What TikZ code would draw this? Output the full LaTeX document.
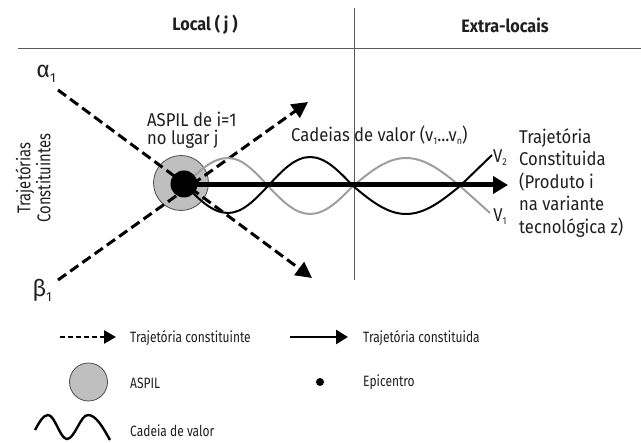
\documentclass[tikz,border=0pt]{standalone}
\usepackage{fontspec}
\setmainfont{Fira Sans}[FakeStretch=0.9]
\newfontfamily\sidefont{Fira Sans}[FakeStretch=0.8]
\newfontfamily\legfont{Fira Sans}[FakeStretch=0.8]
\newfontfamily\greekfont{Fira Sans}
\usetikzlibrary{arrows.meta}
\definecolor{ink}{gray}{0.12}
\definecolor{aspilgray}{gray}{0.75}
\definecolor{wavegray}{gray}{0.62}
\definecolor{rulegray}{gray}{0.35}
\newcommand\subl[1]{\raisebox{-3pt}{\fontsize{10}{10}\selectfont #1}}
\newcommand\subg[1]{\raisebox{-5pt}{\fontsize{13}{13}\selectfont #1}}
\tikzset{
  rulel/.style={draw=rulegray, line width=0.9pt},
  head/.style={font=\bfseries\fontsize{18}{18}\selectfont, text=ink, inner sep=0pt},
  lbl/.style={font=\fontsize{18.5}{18}\selectfont, text=ink, inner sep=0pt, align=left},
  sidelbl/.style={font=\sidefont\fontsize{18.5}{20}\selectfont, text=ink, inner sep=0pt, align=center},
  greek/.style={font=\greekfont\fontsize{23}{23}\selectfont, text=ink, inner sep=0pt},
  legtxt/.style={font=\legfont\fontsize{15}{15}\selectfont, text=ink, inner sep=0pt, anchor=west},
  dasharrow/.style={draw=black, line width=3pt, dash pattern=on 10pt off 5pt,
     -{Triangle[length=16pt,width=16pt]}},
  solidarrow/.style={draw=black, line width=5pt, -{Triangle[length=15pt,width=17pt]}},
  aspilc/.style={circle, fill=aspilgray, draw=black!70, line width=0.8pt, inner sep=0pt},
  epic/.style={circle, fill=black, inner sep=0pt},
  wavel/.style={line width=2pt},
}
\begin{document}
\begin{tikzpicture}[x=1pt,y=-1pt]
\useasboundingbox (0,0) rectangle (641,443);
% frame lines
\coordinate (hl) at (18,48); \coordinate (hr) at (641,48);
\coordinate (vt) at (354,8); \coordinate (vb) at (354,280);
\draw[rulel] (hl) -- (hr);
\draw[rulel] (vt) -- (vb);
\node[head] (local) at (205,25) {Local ( j )};
\node[head] (extra) at (505,25) {Extra-locais};
% side label
\node[sidelbl, rotate=90] (traj) at (33,178) {Trajetórias\\Constituintes};
% greek labels
\node[greek] (alpha) at (46,74) {α\subg{1}};
\node[greek] (beta) at (42,290) {β\subg{1}};
% ASPIL
\node[aspilc, minimum size=55pt] (asp) at (181,183) {};
\node[lbl, anchor=west] (asptxt) at (147,130) {ASPIL de i=1\\no lugar j};
% dashed trajectories
\coordinate (as) at (58,90); \coordinate (ae) at (312,278);
\coordinate (bs) at (58,280); \coordinate (be) at (308,102);
\draw[dasharrow] (as) -- (ae);
\draw[dasharrow] (bs) -- (be);
% value chains
\coordinate (w0) at (185,185);
\draw[wavel, draw=wavegray] (w0) sin (228,158) cos (268,186) sin (310,214) cos (353,186) sin (406,158) cos (460,186) -- (490,213);
\draw[wavel, draw=black] (w0) sin (228,213) cos (268,186) sin (310,157) cos (353,186) sin (406,214) cos (460,186) -- (492,155);
% epicentre
\node[epic, minimum size=27pt] (epi) at (184,184) {};
% constituted trajectory
\coordinate (ts) at (196,185);
\coordinate (te) at (508,185);
\draw[solidarrow] (ts) -- (te);
\node[lbl, anchor=west] (cad) at (291,135) {Cadeias de valor (v\subl{1}...v\subl{n})};
\node[lbl] (v2) at (500,158) {V\subl{2}};
\node[lbl] (v1) at (500,217) {V\subl{1}};
\node[lbl, anchor=west, font=\fontsize{18.5}{22.5}\selectfont] (tc) at (519,183) {Trajetória\\Constituida\\(Produto i\\na variante\\tecnológica z)};
% legend
\coordinate (l1s) at (60,337); \coordinate (l1e) at (116,337);
\draw[draw=black, line width=2.4pt, dash pattern=on 5pt off 3pt, -{Triangle[length=12pt,width=13pt]}] (l1s) -- (l1e);
\node[legtxt] (lt1) at (130,338) {Trajetória constituinte};
\coordinate (l2s) at (290,337); \coordinate (l2e) at (348,337);
\draw[draw=black, line width=2.6pt, -{Triangle[length=12pt,width=14pt]}] (l2s) -- (l2e);
\node[legtxt] (lt2) at (363,338) {Trajetória constituida};
\node[aspilc, minimum size=38pt] (la) at (88.5,382) {};
\node[legtxt] (lt3) at (130,383) {ASPIL};
\node[epic, minimum size=8pt] (le) at (320,382) {};
\node[legtxt] (lt4) at (363,382) {Epicentro};
\coordinate (lw0) at (35,430);
\draw[line width=2.4pt, draw=black] (lw0) sin (48,415) cos (57.5,427) sin (67,439) cos (77.5,427) sin (88,415) cos (110,440);
\node[legtxt] (lt5) at (130,431) {Cadeia de valor};
\end{tikzpicture}
\end{document}
